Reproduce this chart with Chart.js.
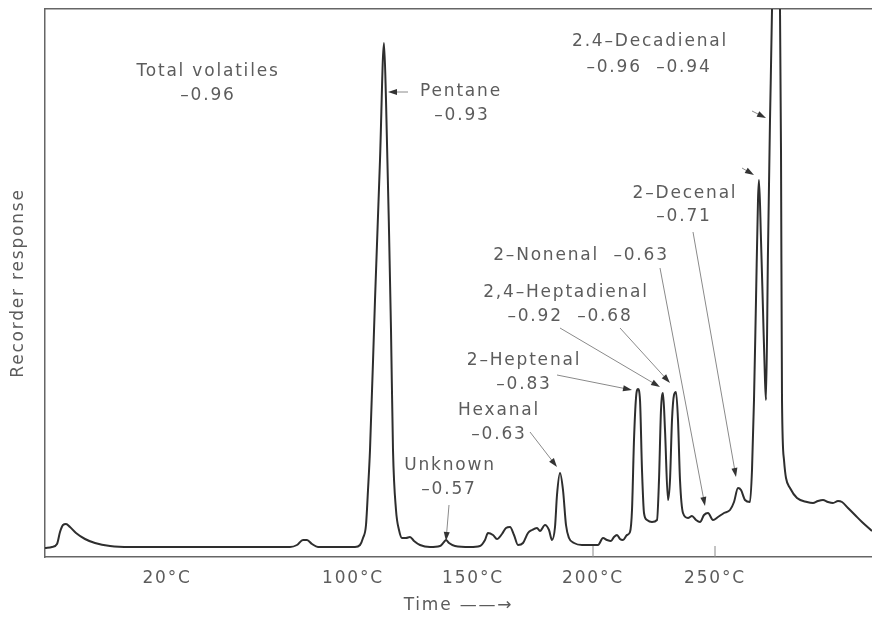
<!DOCTYPE html>
<html>
<head>
<meta charset="utf-8">
<script src="https://cdn.jsdelivr.net/npm/chart.js@4.4.1/dist/chart.umd.min.js"></script>
<style>
    html, body { margin: 0; padding: 0; background: #fff; }
</style>
</head>
<body>
<canvas id="chromatogram" width="872" height="619"></canvas>
<script>
// chromatogram.js - VOLATILES TRACE (recorder response vs time)

// Time along the chart paper (divisions) and recorder response (divisions)
const timeValues = [
    0.0, 0.7, 1.2, 1.5, 1.8, 2.1, 2.5, 3.1, 4.0, 5.0, 6.5, 8.5, 15.5, 24.5, 25.2, 25.8, 26.2, 26.7, 27.3, 31.0,
    31.5, 31.8, 32.1, 32.3, 32.5, 33.0, 33.5, 33.9, 34.1, 34.4, 34.6, 34.8, 35.1, 35.4, 35.7, 36.1, 36.5, 36.9, 37.5, 38.5,
    39.5, 39.9, 40.1, 40.4, 41.0, 42.5, 43.5, 44.0, 44.3, 44.8, 45.2, 45.7, 46.1, 46.5, 46.9, 47.3, 47.8, 48.3, 48.7, 49.2,
    49.5, 50.0, 50.4, 50.7, 51.0, 51.2, 51.5, 51.8, 52.1, 52.4, 52.9, 53.7, 55.3,
    55.8, 56.2, 56.6, 56.9, 57.2, 57.5, 57.8, 58.2, 58.5, 58.7, 58.9, 59.1, 59.3, 59.5, 59.7, 59.9,
    60.2, 60.7, 61.2, 61.4, 61.6, 61.8, 62.0, 62.3, 62.5, 62.7, 62.9, 63.1, 63.3, 63.5,
    63.8, 64.3, 64.7, 65.1, 65.5, 65.9, 66.3, 66.8, 67.3, 67.9, 68.5, 68.9, 69.3, 69.6, 70.0, 70.5,
    70.7, 70.9, 71.1, 71.3, 71.4, 71.6, 71.8, 72.0, 72.1, 72.3, 72.5, 72.7, 73.1, 73.5,
    73.6, 73.7, 73.9, 74.1, 74.5, 75.2, 76.2, 76.8, 77.3, 77.8, 78.3, 78.8, 79.3, 79.7, 80.3, 81.0, 81.7, 82.7
];
const responseValues = [
    0.9, 1.0, 1.3, 2.5, 3.2, 3.3, 3.0, 2.4, 1.8, 1.4, 1.1, 1.0, 1.0, 1.0, 1.2, 1.7, 1.7, 1.3, 1.0, 1.0,
    1.2, 1.9, 3.2, 6.7, 10.7, 25.7, 39.7, 51.4, 45.7, 32.7, 22.7, 10.7, 4.7, 2.7, 1.9, 1.9, 2.0, 1.6, 1.2, 1.0,
    1.1, 1.5, 1.7, 1.4, 1.1, 1.0, 1.1, 1.7, 2.4, 2.2, 1.8, 2.3, 2.9, 3.0, 2.2, 1.2, 1.4, 2.4, 2.7, 2.9,
    2.6, 3.2, 2.7, 1.7, 3.0, 6.2, 8.4, 6.7, 3.2, 1.9, 1.4, 1.2, 1.2,
    1.9, 1.7, 1.6, 2.0, 2.2, 1.8, 1.7, 2.2, 2.5, 4.7, 11.7, 15.9, 16.8, 15.7, 8.7, 4.4,
    3.7, 3.5, 3.7, 7.7, 14.7, 16.4, 12.7, 5.7, 7.7, 13.7, 16.2, 16.5, 13.7, 7.7,
    4.4, 3.9, 4.1, 3.7, 3.5, 4.2, 4.4, 3.7, 4.0, 4.4, 4.7, 5.5, 6.9, 6.7, 5.7, 5.5,
    8.7, 15.7, 25.7, 35.7, 37.7, 31.7, 24.7, 17.7, 15.7, 30.7, 43.7, 54.7, 90, 54.7,
    40.7, 15.7, 9.7, 7.9, 6.9, 5.9, 5.5, 5.4, 5.6, 5.7, 5.5, 5.4, 5.6, 5.5, 4.9, 4.2, 3.5, 2.6
];

// Column temperature marks along the time axis
const tempTickTimes = [12.2, 30.8, 42.8, 54.8, 67.0];
const tempTickLabels = ['20°C', '100°C', '150°C', '200°C', '250°C'];
const markedTicks = ['200°C', '250°C'];

// Peak names and correlation coefficients (time, response = label centre)
const peakLabels = [
    { text: 'Total volatiles', time: 16.3, response: 48.5 },
    { text: '–0.96', time: 16.3, response: 46.1 },
    { text: 'Pentane', time: 41.6, response: 46.5 },
    { text: '–0.93', time: 41.7, response: 44.1 },
    { text: '2.4–Decadienal', time: 60.5, response: 51.5 },
    { text: '–0.96  –0.94', time: 60.4, response: 48.9 },
    { text: '2–Decenal', time: 64.0, response: 36.3 },
    { text: '–0.71', time: 63.9, response: 34.0 },
    { text: '2–Nonenal  –0.63', time: 53.6, response: 30.1 },
    { text: '2,4–Heptadienal', time: 52.1, response: 26.4 },
    { text: '–0.92  –0.68', time: 52.5, response: 24.0 },
    { text: '2–Heptenal', time: 47.9, response: 19.6 },
    { text: '–0.83', time: 47.9, response: 17.2 },
    { text: 'Hexanal', time: 45.4, response: 14.6 },
    { text: '–0.63', time: 45.4, response: 12.2 },
    { text: 'Unknown', time: 40.5, response: 9.1 },
    { text: '–0.57', time: 40.4, response: 6.7 }
];

// Pointer arrows from labels to peaks: [time, response] pairs
const peakArrows = [
    { from: [36.3, 46.5], to: [34.3, 46.5] },
    { from: [40.4, 5.2], to: [40.1, 1.6] },
    { from: [48.5, 12.5], to: [51.2, 9.0] },
    { from: [51.2, 18.2], to: [58.7, 16.7] },
    { from: [51.5, 22.9], to: [61.5, 17.0] },
    { from: [57.5, 22.9], to: [62.5, 17.4] },
    { from: [61.5, 28.9], to: [66.0, 5.1] },
    { from: [64.8, 32.5], to: [69.1, 8.0] },
    { from: [70.7, 44.6], to: [72.1, 43.9] },
    { from: [69.7, 38.9], to: [70.9, 38.2] }
];

const textColor = '#5c5c5c';
const axisColor = '#666';
const labelFont = { family: '"DejaVu Sans", sans-serif', size: 17 };

// Spread letters like the original typesetting
const spacingPlugin = {
    id: 'spacing',
    beforeDraw(chart) { chart.ctx.letterSpacing = '1.8px'; },
    afterDraw(chart) { chart.ctx.letterSpacing = '0px'; }
};

// Draw peak labels, arrows and the inward temperature ticks
const annotationPlugin = {
    id: 'peakAnnotations',
    afterDatasetsDraw(chart) {
        const { ctx, chartArea } = chart;
        const x = chart.scales.x;
        const y = chart.scales.y;

        ctx.save();
        ctx.letterSpacing = '1.8px';
        ctx.font = labelFont.size + 'px ' + labelFont.family;
        ctx.fillStyle = textColor;
        ctx.textAlign = 'center';
        ctx.textBaseline = 'middle';
        peakLabels.forEach(l => {
            ctx.fillText(l.text, x.getPixelForValue(l.time), y.getPixelForValue(l.response));
        });

        peakArrows.forEach(a => {
            const x0 = x.getPixelForValue(a.from[0]);
            const y0 = y.getPixelForValue(a.from[1]);
            const x1 = x.getPixelForValue(a.to[0]);
            const y1 = y.getPixelForValue(a.to[1]);
            const ang = Math.atan2(y1 - y0, x1 - x0);
            ctx.strokeStyle = '#8a8a8a';
            ctx.lineWidth = 1;
            ctx.beginPath();
            ctx.moveTo(x0, y0);
            ctx.lineTo(x1 - 6 * Math.cos(ang), y1 - 6 * Math.sin(ang));
            ctx.stroke();
            ctx.fillStyle = '#333';
            ctx.beginPath();
            ctx.moveTo(x1, y1);
            ctx.lineTo(x1 - 9 * Math.cos(ang) + 3 * Math.sin(ang), y1 - 9 * Math.sin(ang) - 3 * Math.cos(ang));
            ctx.lineTo(x1 - 9 * Math.cos(ang) - 3 * Math.sin(ang), y1 - 9 * Math.sin(ang) + 3 * Math.cos(ang));
            ctx.closePath();
            ctx.fill();
        });

        ctx.strokeStyle = '#888';
        ctx.lineWidth = 1;
        tempTickLabels.forEach((lab, i) => {
            if (!markedTicks.includes(lab)) return;
            const px = x.getPixelForValue(tempTickTimes[i]);
            ctx.beginPath();
            ctx.moveTo(px, chartArea.bottom);
            ctx.lineTo(px, chartArea.bottom - 11);
            ctx.stroke();
        });
        ctx.restore();
    }
};

function initChart() {
    const points = timeValues.map((t, i) => ({ x: t, y: responseValues[i] }));
    const ctx = document.getElementById('chromatogram');

    new Chart(ctx, {
        type: 'line',
        data: {
            datasets: [{
                label: 'Recorder response',
                data: points,
                borderColor: '#2e2e2e',
                borderWidth: 2,
                pointRadius: 0,
                fill: false,
                cubicInterpolationMode: 'monotone'
            }]
        },
        options: {
            responsive: false,
            animation: false,
            devicePixelRatio: 1,
            layout: { padding: { top: 9, right: 0, left: 0, bottom: 0 } },
            plugins: {
                legend: { display: false },
                tooltip: { enabled: false }
            },
            scales: {
                x: {
                    type: 'linear',
                    min: 0,
                    max: 82.7,
                    afterBuildTicks: s => { s.ticks = tempTickTimes.map(v => ({ value: v })); },
                    afterFit: s => { s.height = 62; },
                    grid: { display: false, drawTicks: false },
                    border: { display: true, color: axisColor, width: 1.5 },
                    ticks: {
                        color: textColor,
                        font: labelFont,
                        padding: 11,
                        autoSkip: false,
                        maxRotation: 0,
                        callback: (value, index) => tempTickLabels[index]
                    },
                    title: {
                        display: true,
                        text: 'Time ——→',
                        color: textColor,
                        font: labelFont,
                        padding: { top: 0, bottom: 3 }
                    }
                },
                xTop: {
                    type: 'linear',
                    position: 'top',
                    min: 0,
                    max: 82.7,
                    afterFit: s => { s.height = 0; },
                    grid: { display: false, drawTicks: false },
                    ticks: { display: false },
                    border: { display: true, color: axisColor, width: 1.5 }
                },
                y: {
                    min: 0,
                    max: 54.8,
                    afterFit: s => { s.width = 45; },
                    grid: { display: false, drawTicks: false },
                    ticks: { display: false },
                    border: { display: true, color: axisColor, width: 1.5 },
                    title: {
                        display: true,
                        text: 'Recorder response',
                        color: textColor,
                        font: labelFont,
                        padding: { top: 8, bottom: 0 }
                    }
                }
            }
        },
        plugins: [spacingPlugin, annotationPlugin]
    });
}

initChart();
</script>
</body>
</html>
